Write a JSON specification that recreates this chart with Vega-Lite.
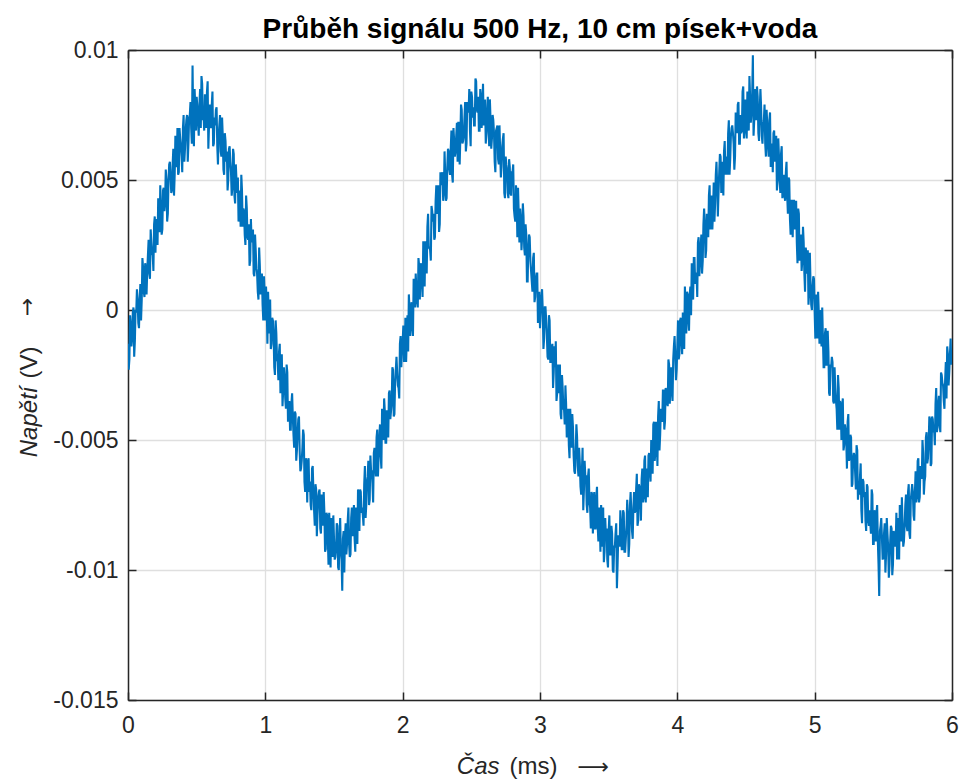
{
"$schema": "https://vega.github.io/schema/vega-lite/v6.json",
"autosize": "none",
"width": 824,
"height": 650,
"padding": {"left": 128, "top": 50, "right": 10, "bottom": 84},
"background": "white",
"title": {"text": "Průběh signálu 500 Hz, 10 cm písek+voda", "font": "Liberation Sans", "fontSize": 28, "fontWeight": "bold", "color": "#000000", "anchor": "middle", "frame": "group", "offset": -5},
"config": {"view": {"stroke": null}},
"data": {"values": [
{"t":0,"v":-0.0013},{"t":0.01,"v":-0.0019},{"t":0.02,"v":-0.0006},{"t":0.03,"v":-0.0011},{"t":0.04,"v":0.0001},{"t":0.05,"v":-0.0012},{"t":0.06,"v":-0.0001},{"t":0.07,"v":0.0004},{"t":0.08,"v":-0.0007},{"t":0.09,"v":0.001},
{"t":0.1,"v":0.0004},{"t":0.11,"v":0.0016},{"t":0.12,"v":0.0005},{"t":0.13,"v":0.0016},{"t":0.14,"v":0.0015},{"t":0.15,"v":0.0027},{"t":0.16,"v":0.0012},{"t":0.17,"v":0.0026},{"t":0.18,"v":0.0021},{"t":0.19,"v":0.0033},
{"t":0.2,"v":0.0022},{"t":0.21,"v":0.0034},{"t":0.22,"v":0.0043},{"t":0.23,"v":0.003},{"t":0.24,"v":0.0039},{"t":0.25,"v":0.0031},{"t":0.26,"v":0.0047},{"t":0.27,"v":0.0041},{"t":0.28,"v":0.005},{"t":0.29,"v":0.0037},
{"t":0.3,"v":0.0056},{"t":0.31,"v":0.0051},{"t":0.32,"v":0.0046},{"t":0.33,"v":0.0062},{"t":0.34,"v":0.0052},{"t":0.35,"v":0.0056},{"t":0.36,"v":0.007},{"t":0.37,"v":0.0053},{"t":0.38,"v":0.0066},{"t":0.39,"v":0.0059},
{"t":0.4,"v":0.007},{"t":0.41,"v":0.0057},{"t":0.42,"v":0.0069},{"t":0.43,"v":0.0075},{"t":0.44,"v":0.0064},{"t":0.45,"v":0.0075},{"t":0.46,"v":0.007},{"t":0.47,"v":0.0094},{"t":0.48,"v":0.0063},{"t":0.49,"v":0.0078},
{"t":0.5,"v":0.0082},{"t":0.51,"v":0.0072},{"t":0.52,"v":0.0079},{"t":0.53,"v":0.007},{"t":0.54,"v":0.0087},{"t":0.55,"v":0.0075},{"t":0.56,"v":0.0083},{"t":0.57,"v":0.007},{"t":0.58,"v":0.0088},{"t":0.59,"v":0.0071},
{"t":0.6,"v":0.0072},{"t":0.61,"v":0.0079},{"t":0.62,"v":0.0063},{"t":0.63,"v":0.0074},{"t":0.64,"v":0.0077},{"t":0.65,"v":0.0063},{"t":0.66,"v":0.0067},{"t":0.67,"v":0.0075},{"t":0.68,"v":0.0059},{"t":0.69,"v":0.0067},
{"t":0.7,"v":0.0052},{"t":0.71,"v":0.0065},{"t":0.72,"v":0.0061},{"t":0.73,"v":0.005},{"t":0.74,"v":0.0063},{"t":0.75,"v":0.0053},{"t":0.76,"v":0.0047},{"t":0.77,"v":0.006},{"t":0.78,"v":0.0041},{"t":0.79,"v":0.005},
{"t":0.8,"v":0.0051},{"t":0.81,"v":0.0039},{"t":0.82,"v":0.0032},{"t":0.83,"v":0.0046},{"t":0.84,"v":0.0039},{"t":0.85,"v":0.0029},{"t":0.86,"v":0.0044},{"t":0.87,"v":0.0028},{"t":0.88,"v":0.0033},{"t":0.89,"v":0.0019},
{"t":0.9,"v":0.0026},{"t":0.91,"v":0.0031},{"t":0.92,"v":0.0013},{"t":0.93,"v":0.0023},{"t":0.94,"v":0.0014},{"t":0.95,"v":0.0004},{"t":0.96,"v":0.0017},{"t":0.97,"v":0.0012},{"t":0.98,"v":0.0002},{"t":0.99,"v":0.0013},
{"t":1,"v":-0.0004},{"t":1.01,"v":0.0002},{"t":1.02,"v":0.0007},{"t":1.03,"v":-0.0009},{"t":1.04,"v":-0.0015},{"t":1.05,"v":-0.0003},{"t":1.06,"v":-0.0009},{"t":1.07,"v":-0.0025},{"t":1.08,"v":-0.0009},{"t":1.09,"v":-0.002},
{"t":1.1,"v":-0.0016},{"t":1.11,"v":-0.0032},{"t":1.12,"v":-0.0017},{"t":1.13,"v":-0.0031},{"t":1.14,"v":-0.0026},{"t":1.15,"v":-0.0038},{"t":1.16,"v":-0.0024},{"t":1.17,"v":-0.0038},{"t":1.18,"v":-0.0046},{"t":1.19,"v":-0.0036},
{"t":1.2,"v":-0.0041},{"t":1.21,"v":-0.0053},{"t":1.22,"v":-0.004},{"t":1.23,"v":-0.0054},{"t":1.24,"v":-0.0042},{"t":1.25,"v":-0.0054},{"t":1.26,"v":-0.0061},{"t":1.27,"v":-0.0053},{"t":1.28,"v":-0.0048},{"t":1.29,"v":-0.007},
{"t":1.3,"v":-0.006},{"t":1.31,"v":-0.0058},{"t":1.32,"v":-0.007},{"t":1.33,"v":-0.0075},{"t":1.34,"v":-0.0061},{"t":1.35,"v":-0.007},{"t":1.36,"v":-0.0083},{"t":1.37,"v":-0.0069},{"t":1.38,"v":-0.0079},{"t":1.39,"v":-0.007},
{"t":1.4,"v":-0.0084},{"t":1.41,"v":-0.0071},{"t":1.42,"v":-0.0083},{"t":1.43,"v":-0.0078},{"t":1.44,"v":-0.0092},{"t":1.45,"v":-0.0079},{"t":1.46,"v":-0.0098},{"t":1.47,"v":-0.0084},{"t":1.48,"v":-0.008},{"t":1.49,"v":-0.0095},
{"t":1.5,"v":-0.0088},{"t":1.51,"v":-0.0095},{"t":1.52,"v":-0.0082},{"t":1.53,"v":-0.0099},{"t":1.54,"v":-0.0088},{"t":1.55,"v":-0.0093},{"t":1.56,"v":-0.0108},{"t":1.57,"v":-0.0085},{"t":1.58,"v":-0.0087},{"t":1.59,"v":-0.0094},
{"t":1.6,"v":-0.0081},{"t":1.61,"v":-0.009},{"t":1.62,"v":-0.0094},{"t":1.63,"v":-0.0076},{"t":1.64,"v":-0.0083},{"t":1.65,"v":-0.0088},{"t":1.66,"v":-0.0076},{"t":1.67,"v":-0.009},{"t":1.68,"v":-0.0075},{"t":1.69,"v":-0.0069},
{"t":1.7,"v":-0.0078},{"t":1.71,"v":-0.0079},{"t":1.72,"v":-0.0067},{"t":1.73,"v":-0.008},{"t":1.74,"v":-0.0066},{"t":1.75,"v":-0.0058},{"t":1.76,"v":-0.0073},{"t":1.77,"v":-0.0062},{"t":1.78,"v":-0.0067},{"t":1.79,"v":-0.0055},
{"t":1.8,"v":-0.006},{"t":1.81,"v":-0.0049},{"t":1.82,"v":-0.0064},{"t":1.83,"v":-0.0049},{"t":1.84,"v":-0.0056},{"t":1.85,"v":-0.0038},{"t":1.86,"v":-0.005},{"t":1.87,"v":-0.0039},{"t":1.88,"v":-0.0051},{"t":1.89,"v":-0.0039},
{"t":1.9,"v":-0.0032},{"t":1.91,"v":-0.0042},{"t":1.92,"v":-0.0036},{"t":1.93,"v":-0.0023},{"t":1.94,"v":-0.004},{"t":1.95,"v":-0.0023},{"t":1.96,"v":-0.0024},{"t":1.97,"v":-0.003},{"t":1.98,"v":-0.0013},{"t":1.99,"v":-0.0022},
{"t":2,"v":-0.0012},{"t":2.01,"v":-0.002},{"t":2.02,"v":-0.0003},{"t":2.03,"v":-0.0011},{"t":2.04,"v":-0.0016},{"t":2.05,"v":0},{"t":2.06,"v":0.0001},{"t":2.07,"v":-0.0007},{"t":2.08,"v":0.0012},{"t":2.09,"v":0.0001},
{"t":2.1,"v":0.0008},{"t":2.11,"v":0.0001},{"t":2.12,"v":0.0017},{"t":2.13,"v":0.0016},{"t":2.14,"v":0.0011},{"t":2.15,"v":0.0026},{"t":2.16,"v":0.0009},{"t":2.17,"v":0.0026},{"t":2.18,"v":0.0032},{"t":2.19,"v":0.0024},
{"t":2.2,"v":0.0023},{"t":2.21,"v":0.004},{"t":2.22,"v":0.0034},{"t":2.23,"v":0.0027},{"t":2.24,"v":0.0042},{"t":2.25,"v":0.0037},{"t":2.26,"v":0.0048},{"t":2.27,"v":0.0033},{"t":2.28,"v":0.0048},{"t":2.29,"v":0.0053},
{"t":2.3,"v":0.0045},{"t":2.31,"v":0.0052},{"t":2.32,"v":0.0043},{"t":2.33,"v":0.0062},{"t":2.34,"v":0.0054},{"t":2.35,"v":0.0062},{"t":2.36,"v":0.0052},{"t":2.37,"v":0.007},{"t":2.38,"v":0.0059},{"t":2.39,"v":0.0067},
{"t":2.4,"v":0.0057},{"t":2.41,"v":0.0072},{"t":2.42,"v":0.0066},{"t":2.43,"v":0.0077},{"t":2.44,"v":0.0065},{"t":2.45,"v":0.0074},{"t":2.46,"v":0.0061},{"t":2.47,"v":0.008},{"t":2.48,"v":0.0076},{"t":2.49,"v":0.0069},
{"t":2.5,"v":0.0084},{"t":2.51,"v":0.0074},{"t":2.52,"v":0.0071},{"t":2.53,"v":0.0089},{"t":2.54,"v":0.0077},{"t":2.55,"v":0.0082},{"t":2.56,"v":0.0069},{"t":2.57,"v":0.0082},{"t":2.58,"v":0.0077},{"t":2.59,"v":0.0071},
{"t":2.6,"v":0.0081},{"t":2.61,"v":0.0068},{"t":2.62,"v":0.0082},{"t":2.63,"v":0.0063},{"t":2.64,"v":0.0073},{"t":2.65,"v":0.0066},{"t":2.66,"v":0.0073},{"t":2.67,"v":0.0057},{"t":2.68,"v":0.0069},{"t":2.69,"v":0.0071},
{"t":2.7,"v":0.0056},{"t":2.71,"v":0.0061},{"t":2.72,"v":0.0055},{"t":2.73,"v":0.0066},{"t":2.74,"v":0.0045},{"t":2.75,"v":0.0059},{"t":2.76,"v":0.0054},{"t":2.77,"v":0.0043},{"t":2.78,"v":0.0055},{"t":2.79,"v":0.0044},
{"t":2.8,"v":0.0053},{"t":2.81,"v":0.0039},{"t":2.82,"v":0.0034},{"t":2.83,"v":0.0044},{"t":2.84,"v":0.0047},{"t":2.85,"v":0.0026},{"t":2.86,"v":0.0035},{"t":2.87,"v":0.0028},{"t":2.88,"v":0.0036},{"t":2.89,"v":0.0021},
{"t":2.9,"v":0.0029},{"t":2.91,"v":0.0011},{"t":2.92,"v":0.0029},{"t":2.93,"v":0.0019},{"t":2.94,"v":0.0011},{"t":2.95,"v":0.002},{"t":2.96,"v":0.0003},{"t":2.97,"v":0.0012},{"t":2.98,"v":0.0014},{"t":2.99,"v":0.0003},
{"t":3,"v":-0.0007},{"t":3.01,"v":0.0005},{"t":3.02,"v":0},{"t":3.03,"v":-0.0011},{"t":3.04,"v":0.0001},{"t":3.05,"v":-0.001},{"t":3.06,"v":-0.0019},{"t":3.07,"v":-0.0004},{"t":3.08,"v":-0.002},{"t":3.09,"v":-0.0013},
{"t":3.1,"v":-0.0024},{"t":3.11,"v":-0.0022},{"t":3.12,"v":-0.0035},{"t":3.13,"v":-0.0021},{"t":3.14,"v":-0.0026},{"t":3.15,"v":-0.004},{"t":3.16,"v":-0.0025},{"t":3.17,"v":-0.0038},{"t":3.18,"v":-0.0044},{"t":3.19,"v":-0.0036},
{"t":3.2,"v":-0.004},{"t":3.21,"v":-0.0052},{"t":3.22,"v":-0.0038},{"t":3.23,"v":-0.0053},{"t":3.24,"v":-0.0045},{"t":3.25,"v":-0.0062},{"t":3.26,"v":-0.0054},{"t":3.27,"v":-0.0049},{"t":3.28,"v":-0.0064},{"t":3.29,"v":-0.0059},
{"t":3.3,"v":-0.0071},{"t":3.31,"v":-0.0053},{"t":3.32,"v":-0.0069},{"t":3.33,"v":-0.0064},{"t":3.34,"v":-0.0075},{"t":3.35,"v":-0.0064},{"t":3.36,"v":-0.0074},{"t":3.37,"v":-0.0084},{"t":3.38,"v":-0.0071},{"t":3.39,"v":-0.0074},
{"t":3.4,"v":-0.0084},{"t":3.41,"v":-0.0072},{"t":3.42,"v":-0.0083},{"t":3.43,"v":-0.0076},{"t":3.44,"v":-0.0093},{"t":3.45,"v":-0.0081},{"t":3.46,"v":-0.0076},{"t":3.47,"v":-0.0093},{"t":3.48,"v":-0.0087},{"t":3.49,"v":-0.0096},
{"t":3.5,"v":-0.0085},{"t":3.51,"v":-0.0094},{"t":3.52,"v":-0.0083},{"t":3.53,"v":-0.01},{"t":3.54,"v":-0.0091},{"t":3.55,"v":-0.0086},{"t":3.56,"v":-0.0107},{"t":3.57,"v":-0.0087},{"t":3.58,"v":-0.0091},{"t":3.59,"v":-0.0082},
{"t":3.6,"v":-0.0092},{"t":3.61,"v":-0.0078},{"t":3.62,"v":-0.0093},{"t":3.63,"v":-0.0083},{"t":3.64,"v":-0.0079},{"t":3.65,"v":-0.009},{"t":3.66,"v":-0.007},{"t":3.67,"v":-0.0085},{"t":3.68,"v":-0.0076},{"t":3.69,"v":-0.0078},
{"t":3.7,"v":-0.0069},{"t":3.71,"v":-0.0083},{"t":3.72,"v":-0.0067},{"t":3.73,"v":-0.0073},{"t":3.74,"v":-0.0065},{"t":3.75,"v":-0.0074},{"t":3.76,"v":-0.0058},{"t":3.77,"v":-0.0074},{"t":3.78,"v":-0.0061},{"t":3.79,"v":-0.0056},
{"t":3.8,"v":-0.0062},{"t":3.81,"v":-0.005},{"t":3.82,"v":-0.0063},{"t":3.83,"v":-0.0043},{"t":3.84,"v":-0.0055},{"t":3.85,"v":-0.0048},{"t":3.86,"v":-0.0041},{"t":3.87,"v":-0.0054},{"t":3.88,"v":-0.0038},{"t":3.89,"v":-0.0043},
{"t":3.9,"v":-0.0031},{"t":3.91,"v":-0.0043},{"t":3.92,"v":-0.0031},{"t":3.93,"v":-0.0037},{"t":3.94,"v":-0.0021},{"t":3.95,"v":-0.0029},{"t":3.96,"v":-0.0031},{"t":3.97,"v":-0.0019},{"t":3.98,"v":-0.001},{"t":3.99,"v":-0.0027},
{"t":4,"v":-0.0014},{"t":4.01,"v":-0.0019},{"t":4.02,"v":-0.0004},{"t":4.03,"v":-0.0012},{"t":4.04,"v":-0.0001},{"t":4.05,"v":-0.0015},{"t":4.06,"v":0.0002},{"t":4.07,"v":0.0007},{"t":4.08,"v":-0.0004},{"t":4.09,"v":0.0006},
{"t":4.1,"v":-0.0002},{"t":4.11,"v":0.0014},{"t":4.12,"v":0.002},{"t":4.13,"v":0.001},{"t":4.14,"v":0.0014},{"t":4.15,"v":0.0026},{"t":4.16,"v":0.0013},{"t":4.17,"v":0.0025},{"t":4.18,"v":0.0014},{"t":4.19,"v":0.0033},
{"t":4.2,"v":0.0033},{"t":4.21,"v":0.0023},{"t":4.22,"v":0.0035},{"t":4.23,"v":0.0044},{"t":4.24,"v":0.0031},{"t":4.25,"v":0.0044},{"t":4.26,"v":0.0038},{"t":4.27,"v":0.0034},{"t":4.28,"v":0.0052},{"t":4.29,"v":0.0048},
{"t":4.3,"v":0.0045},{"t":4.31,"v":0.006},{"t":4.32,"v":0.0045},{"t":4.33,"v":0.0057},{"t":4.34,"v":0.0061},{"t":4.35,"v":0.0052},{"t":4.36,"v":0.0058},{"t":4.37,"v":0.0068},{"t":4.38,"v":0.0052},{"t":4.39,"v":0.0067},
{"t":4.4,"v":0.0071},{"t":4.41,"v":0.0064},{"t":4.42,"v":0.0059},{"t":4.43,"v":0.0073},{"t":4.44,"v":0.0079},{"t":4.45,"v":0.0064},{"t":4.46,"v":0.0075},{"t":4.47,"v":0.0069},{"t":4.48,"v":0.0086},{"t":4.49,"v":0.0069},
{"t":4.5,"v":0.0077},{"t":4.51,"v":0.0084},{"t":4.52,"v":0.0069},{"t":4.53,"v":0.0082},{"t":4.54,"v":0.0076},{"t":4.55,"v":0.0098},{"t":4.56,"v":0.0073},{"t":4.57,"v":0.0076},{"t":4.58,"v":0.0086},{"t":4.59,"v":0.0068},
{"t":4.6,"v":0.0077},{"t":4.61,"v":0.0078},{"t":4.62,"v":0.0064},{"t":4.63,"v":0.0073},{"t":4.64,"v":0.0064},{"t":4.65,"v":0.0077},{"t":4.66,"v":0.0063},{"t":4.67,"v":0.0073},{"t":4.68,"v":0.0055},{"t":4.69,"v":0.0064},
{"t":4.7,"v":0.0068},{"t":4.71,"v":0.0057},{"t":4.72,"v":0.0067},{"t":4.73,"v":0.005},{"t":4.74,"v":0.0059},{"t":4.75,"v":0.0045},{"t":4.76,"v":0.0063},{"t":4.77,"v":0.0048},{"t":4.78,"v":0.0044},{"t":4.79,"v":0.0053},
{"t":4.8,"v":0.0044},{"t":4.81,"v":0.0051},{"t":4.82,"v":0.0035},{"t":4.83,"v":0.0042},{"t":4.84,"v":0.0028},{"t":4.85,"v":0.0042},{"t":4.86,"v":0.0035},{"t":4.87,"v":0.0026},{"t":4.88,"v":0.0039},{"t":4.89,"v":0.0019},
{"t":4.9,"v":0.0029},{"t":4.91,"v":0.0019},{"t":4.92,"v":0.0026},{"t":4.93,"v":0.0007},{"t":4.94,"v":0.0021},{"t":4.95,"v":0.0023},{"t":4.96,"v":0.0007},{"t":4.97,"v":0.001},{"t":4.98,"v":0},{"t":4.99,"v":0.0013},
{"t":5,"v":-0.0001},{"t":5.01,"v":0.0006},{"t":5.02,"v":-0.0011},{"t":5.03,"v":-0.0001},{"t":5.04,"v":0},{"t":5.05,"v":-0.0014},{"t":5.06,"v":-0.0011},{"t":5.07,"v":-0.0022},{"t":5.08,"v":-0.0007},{"t":5.09,"v":-0.0021},
{"t":5.1,"v":-0.0016},{"t":5.11,"v":-0.0033},{"t":5.12,"v":-0.0022},{"t":5.13,"v":-0.002},{"t":5.14,"v":-0.0036},{"t":5.15,"v":-0.003},{"t":5.16,"v":-0.0038},{"t":5.17,"v":-0.0025},{"t":5.18,"v":-0.0046},{"t":5.19,"v":-0.0037},
{"t":5.2,"v":-0.0037},{"t":5.21,"v":-0.0054},{"t":5.22,"v":-0.0044},{"t":5.23,"v":-0.005},{"t":5.24,"v":-0.0043},{"t":5.25,"v":-0.0058},{"t":5.26,"v":-0.0048},{"t":5.27,"v":-0.0068},{"t":5.28,"v":-0.0057},{"t":5.29,"v":-0.0056},
{"t":5.3,"v":-0.0069},{"t":5.31,"v":-0.0054},{"t":5.32,"v":-0.0069},{"t":5.33,"v":-0.0064},{"t":5.34,"v":-0.0077},{"t":5.35,"v":-0.0065},{"t":5.36,"v":-0.0072},{"t":5.37,"v":-0.0081},{"t":5.38,"v":-0.0067},{"t":5.39,"v":-0.0081},
{"t":5.4,"v":-0.0077},{"t":5.41,"v":-0.0086},{"t":5.42,"v":-0.0071},{"t":5.43,"v":-0.009},{"t":5.44,"v":-0.008},{"t":5.45,"v":-0.0078},{"t":5.46,"v":-0.0089},{"t":5.47,"v":-0.011},{"t":5.48,"v":-0.0083},{"t":5.49,"v":-0.0088},
{"t":5.5,"v":-0.0095},{"t":5.51,"v":-0.0082},{"t":5.52,"v":-0.0094},{"t":5.53,"v":-0.0086},{"t":5.54,"v":-0.0103},{"t":5.55,"v":-0.0089},{"t":5.56,"v":-0.0084},{"t":5.57,"v":-0.0098},{"t":5.58,"v":-0.0086},{"t":5.59,"v":-0.009},
{"t":5.6,"v":-0.0096},{"t":5.61,"v":-0.0082},{"t":5.62,"v":-0.0075},{"t":5.63,"v":-0.0089},{"t":5.64,"v":-0.0082},{"t":5.65,"v":-0.0089},{"t":5.66,"v":-0.0075},{"t":5.67,"v":-0.0083},{"t":5.68,"v":-0.007},{"t":5.69,"v":-0.0086},
{"t":5.7,"v":-0.0073},{"t":5.71,"v":-0.0067},{"t":5.72,"v":-0.0079},{"t":5.73,"v":-0.007},{"t":5.74,"v":-0.0074},{"t":5.75,"v":-0.0058},{"t":5.76,"v":-0.0074},{"t":5.77,"v":-0.006},{"t":5.78,"v":-0.0065},{"t":5.79,"v":-0.0055},
{"t":5.8,"v":-0.0066},{"t":5.81,"v":-0.0049},{"t":5.82,"v":-0.0059},{"t":5.83,"v":-0.0051},{"t":5.84,"v":-0.0042},{"t":5.85,"v":-0.0059},{"t":5.86,"v":-0.0042},{"t":5.87,"v":-0.0046},{"t":5.88,"v":-0.0036},{"t":5.89,"v":-0.0047},
{"t":5.9,"v":-0.0036},{"t":5.91,"v":-0.0044},{"t":5.92,"v":-0.0024},{"t":5.93,"v":-0.0028},{"t":5.94,"v":-0.0035},{"t":5.95,"v":-0.0027},{"t":5.96,"v":-0.0034},{"t":5.97,"v":-0.0017},{"t":5.98,"v":-0.0024},{"t":5.99,"v":-0.0011},
{"t":6,"v":-0.002},
{"t":0.005,"v":-0.0023},{"t":0.015,"v":-0.0002},{"t":0.025,"v":-0.0014},{"t":0.035,"v":-0.0001},{"t":0.045,"v":-0.0018},{"t":0.055,"v":0},{"t":0.065,"v":0.0008},{"t":0.075,"v":-0.0005},{"t":0.085,"v":0.0004},{"t":0.095,"v":-0.0004},
{"t":0.105,"v":0.002},{"t":0.115,"v":0.0007},{"t":0.125,"v":0.0018},{"t":0.135,"v":0.0006},{"t":0.145,"v":0.0021},{"t":0.155,"v":0.0014},{"t":0.165,"v":0.0031},{"t":0.175,"v":0.0022},{"t":0.185,"v":0.0015},{"t":0.195,"v":0.0036},
{"t":0.205,"v":0.0035},{"t":0.215,"v":0.0025},{"t":0.225,"v":0.0032},{"t":0.235,"v":0.0048},{"t":0.245,"v":0.0029},{"t":0.255,"v":0.0046},{"t":0.265,"v":0.0038},{"t":0.275,"v":0.0054},{"t":0.285,"v":0.0034},{"t":0.295,"v":0.005},
{"t":0.305,"v":0.0057},{"t":0.315,"v":0.0045},{"t":0.325,"v":0.0056},{"t":0.335,"v":0.0044},{"t":0.345,"v":0.0067},{"t":0.355,"v":0.0055},{"t":0.365,"v":0.0052},{"t":0.375,"v":0.007},{"t":0.385,"v":0.0063},{"t":0.395,"v":0.0053},
{"t":0.405,"v":0.0075},{"t":0.415,"v":0.0062},{"t":0.425,"v":0.0073},{"t":0.435,"v":0.0057},{"t":0.445,"v":0.0074},{"t":0.455,"v":0.008},{"t":0.465,"v":0.0064},{"t":0.475,"v":0.0072},{"t":0.485,"v":0.0085},{"t":0.495,"v":0.0069},
{"t":0.505,"v":0.0078},{"t":0.515,"v":0.0067},{"t":0.525,"v":0.0085},{"t":0.535,"v":0.009},{"t":0.545,"v":0.0073},{"t":0.555,"v":0.0069},{"t":0.565,"v":0.008},{"t":0.575,"v":0.0084},{"t":0.585,"v":0.0062},{"t":0.595,"v":0.0079},
{"t":0.605,"v":0.007},{"t":0.615,"v":0.0084},{"t":0.625,"v":0.0064},{"t":0.635,"v":0.0071},{"t":0.645,"v":0.0078},{"t":0.655,"v":0.0056},{"t":0.665,"v":0.0071},{"t":0.675,"v":0.0061},{"t":0.685,"v":0.0074},{"t":0.695,"v":0.0054},
{"t":0.705,"v":0.0068},{"t":0.715,"v":0.0057},{"t":0.725,"v":0.0046},{"t":0.735,"v":0.0062},{"t":0.745,"v":0.0057},{"t":0.755,"v":0.0044},{"t":0.765,"v":0.0062},{"t":0.775,"v":0.0044},{"t":0.785,"v":0.0056},{"t":0.795,"v":0.0045},
{"t":0.805,"v":0.0034},{"t":0.815,"v":0.0046},{"t":0.825,"v":0.0052},{"t":0.835,"v":0.0032},{"t":0.845,"v":0.0038},{"t":0.855,"v":0.0025},{"t":0.865,"v":0.0039},{"t":0.875,"v":0.0027},{"t":0.885,"v":0.0017},{"t":0.895,"v":0.0035},
{"t":0.905,"v":0.0028},{"t":0.915,"v":0.0014},{"t":0.925,"v":0.0029},{"t":0.935,"v":0.0016},{"t":0.945,"v":0.0007},{"t":0.955,"v":0.0024},{"t":0.965,"v":0.0006},{"t":0.975,"v":0.0014},{"t":0.985,"v":-0.0004},{"t":0.995,"v":0.0006},
{"t":1.005,"v":0.0009},{"t":1.015,"v":-0.0013},{"t":1.025,"v":-0.0002},{"t":1.035,"v":0.0004},{"t":1.045,"v":-0.0013},{"t":1.055,"v":-0.0004},{"t":1.065,"v":-0.0022},{"t":1.075,"v":-0.0004},{"t":1.085,"v":-0.0019},{"t":1.095,"v":-0.0027},
{"t":1.105,"v":-0.0013},{"t":1.115,"v":-0.002},{"t":1.125,"v":-0.0037},{"t":1.135,"v":-0.0022},{"t":1.145,"v":-0.0034},{"t":1.155,"v":-0.0021},{"t":1.165,"v":-0.0043},{"t":1.175,"v":-0.0035},{"t":1.185,"v":-0.0046},{"t":1.195,"v":-0.0032},
{"t":1.205,"v":-0.0048},{"t":1.215,"v":-0.0039},{"t":1.225,"v":-0.0058},{"t":1.235,"v":-0.0047},{"t":1.245,"v":-0.0041},{"t":1.255,"v":-0.0062},{"t":1.265,"v":-0.0058},{"t":1.275,"v":-0.0046},{"t":1.285,"v":-0.0066},{"t":1.295,"v":-0.0057},
{"t":1.305,"v":-0.0074},{"t":1.315,"v":-0.0057},{"t":1.325,"v":-0.0066},{"t":1.335,"v":-0.0077},{"t":1.345,"v":-0.006},{"t":1.355,"v":-0.0077},{"t":1.365,"v":-0.0067},{"t":1.375,"v":-0.0087},{"t":1.385,"v":-0.0072},{"t":1.395,"v":-0.0069},
{"t":1.405,"v":-0.0086},{"t":1.415,"v":-0.0078},{"t":1.425,"v":-0.007},{"t":1.435,"v":-0.0093},{"t":1.445,"v":-0.0078},{"t":1.455,"v":-0.0088},{"t":1.465,"v":-0.0078},{"t":1.475,"v":-0.0099},{"t":1.485,"v":-0.0084},{"t":1.495,"v":-0.0079},
{"t":1.505,"v":-0.0096},{"t":1.515,"v":-0.0092},{"t":1.525,"v":-0.0083},{"t":1.535,"v":-0.01},{"t":1.545,"v":-0.008},{"t":1.555,"v":-0.0096},{"t":1.565,"v":-0.0088},{"t":1.575,"v":-0.0101},{"t":1.585,"v":-0.0082},{"t":1.595,"v":-0.009},
{"t":1.605,"v":-0.0076},{"t":1.615,"v":-0.0095},{"t":1.625,"v":-0.008},{"t":1.635,"v":-0.0087},{"t":1.645,"v":-0.0075},{"t":1.655,"v":-0.0093},{"t":1.665,"v":-0.0078},{"t":1.675,"v":-0.0069},{"t":1.685,"v":-0.0085},{"t":1.695,"v":-0.007},
{"t":1.705,"v":-0.0076},{"t":1.715,"v":-0.0083},{"t":1.725,"v":-0.006},{"t":1.735,"v":-0.0075},{"t":1.745,"v":-0.0064},{"t":1.755,"v":-0.0075},{"t":1.765,"v":-0.0056},{"t":1.775,"v":-0.0062},{"t":1.785,"v":-0.0074},{"t":1.795,"v":-0.0053},
{"t":1.805,"v":-0.0064},{"t":1.815,"v":-0.0046},{"t":1.825,"v":-0.0056},{"t":1.835,"v":-0.0044},{"t":1.845,"v":-0.0061},{"t":1.855,"v":-0.0044},{"t":1.865,"v":-0.0034},{"t":1.875,"v":-0.0051},{"t":1.885,"v":-0.0039},{"t":1.895,"v":-0.0049},
{"t":1.905,"v":-0.0031},{"t":1.915,"v":-0.0039},{"t":1.925,"v":-0.0022},{"t":1.935,"v":-0.0041},{"t":1.945,"v":-0.0028},{"t":1.955,"v":-0.0018},{"t":1.965,"v":-0.0029},{"t":1.975,"v":-0.0034},{"t":1.985,"v":-0.001},{"t":1.995,"v":-0.0015},
{"t":2.005,"v":-0.0006},{"t":2.015,"v":-0.0016},{"t":2.025,"v":-0.002},{"t":2.035,"v":-0.0002},{"t":2.045,"v":0.0006},{"t":2.055,"v":-0.001},{"t":2.065,"v":0.0003},{"t":2.075,"v":-0.001},{"t":2.085,"v":0.0004},{"t":2.095,"v":0.0014},
{"t":2.105,"v":0.0003},{"t":2.115,"v":0.002},{"t":2.125,"v":0.0004},{"t":2.135,"v":0.0018},{"t":2.145,"v":0.0005},{"t":2.155,"v":0.0026},{"t":2.165,"v":0.0026},{"t":2.175,"v":0.0014},{"t":2.185,"v":0.0037},{"t":2.195,"v":0.0024},
{"t":2.205,"v":0.0019},{"t":2.215,"v":0.0038},{"t":2.225,"v":0.0037},{"t":2.235,"v":0.0028},{"t":2.245,"v":0.0048},{"t":2.255,"v":0.0038},{"t":2.265,"v":0.003},{"t":2.275,"v":0.0053},{"t":2.285,"v":0.0051},{"t":2.295,"v":0.0042},
{"t":2.305,"v":0.0061},{"t":2.315,"v":0.0042},{"t":2.325,"v":0.0055},{"t":2.335,"v":0.0061},{"t":2.345,"v":0.0052},{"t":2.355,"v":0.0069},{"t":2.365,"v":0.0049},{"t":2.375,"v":0.0065},{"t":2.385,"v":0.0061},{"t":2.395,"v":0.0072},
{"t":2.405,"v":0.0072},{"t":2.415,"v":0.0056},{"t":2.425,"v":0.0079},{"t":2.435,"v":0.0064},{"t":2.445,"v":0.0067},{"t":2.455,"v":0.008},{"t":2.465,"v":0.0064},{"t":2.475,"v":0.0077},{"t":2.485,"v":0.0085},{"t":2.495,"v":0.0063},
{"t":2.505,"v":0.0082},{"t":2.515,"v":0.0078},{"t":2.525,"v":0.0071},{"t":2.535,"v":0.0088},{"t":2.545,"v":0.0076},{"t":2.555,"v":0.0069},{"t":2.565,"v":0.0085},{"t":2.575,"v":0.007},{"t":2.585,"v":0.0087},{"t":2.595,"v":0.0077},
{"t":2.605,"v":0.0064},{"t":2.615,"v":0.0076},{"t":2.625,"v":0.007},{"t":2.635,"v":0.0081},{"t":2.645,"v":0.0062},{"t":2.655,"v":0.0075},{"t":2.665,"v":0.0068},{"t":2.675,"v":0.0053},{"t":2.685,"v":0.007},{"t":2.695,"v":0.0058},
{"t":2.705,"v":0.0071},{"t":2.715,"v":0.0051},{"t":2.725,"v":0.0063},{"t":2.735,"v":0.0068},{"t":2.745,"v":0.0043},{"t":2.755,"v":0.0056},{"t":2.765,"v":0.0045},{"t":2.775,"v":0.0058},{"t":2.785,"v":0.0045},{"t":2.795,"v":0.0053},
{"t":2.805,"v":0.0056},{"t":2.815,"v":0.0036},{"t":2.825,"v":0.0048},{"t":2.835,"v":0.0028},{"t":2.845,"v":0.0037},{"t":2.855,"v":0.0039},{"t":2.865,"v":0.0023},{"t":2.875,"v":0.0041},{"t":2.885,"v":0.0024},{"t":2.895,"v":0.0033},
{"t":2.905,"v":0.0011},{"t":2.915,"v":0.0024},{"t":2.925,"v":0.0028},{"t":2.935,"v":0.0015},{"t":2.945,"v":0.0007},{"t":2.955,"v":0.0022},{"t":2.965,"v":0.0005},{"t":2.975,"v":0.0014},{"t":2.985,"v":-0.0005},{"t":2.995,"v":0.0007},
{"t":3.005,"v":-0.0001},{"t":3.015,"v":0.0008},{"t":3.025,"v":-0.0015},{"t":3.035,"v":0.0001},{"t":3.045,"v":-0.0004},{"t":3.055,"v":-0.0018},{"t":3.065,"v":-0.0002},{"t":3.075,"v":-0.002},{"t":3.085,"v":-0.0015},{"t":3.095,"v":-0.003},
{"t":3.105,"v":-0.0014},{"t":3.115,"v":-0.0012},{"t":3.125,"v":-0.0032},{"t":3.135,"v":-0.0032},{"t":3.145,"v":-0.0021},{"t":3.155,"v":-0.0042},{"t":3.165,"v":-0.003},{"t":3.175,"v":-0.0038},{"t":3.185,"v":-0.0029},{"t":3.195,"v":-0.0049},
{"t":3.205,"v":-0.0038},{"t":3.215,"v":-0.0057},{"t":3.225,"v":-0.0045},{"t":3.235,"v":-0.004},{"t":3.245,"v":-0.0056},{"t":3.255,"v":-0.0063},{"t":3.265,"v":-0.0044},{"t":3.275,"v":-0.006},{"t":3.285,"v":-0.0053},{"t":3.295,"v":-0.0068},
{"t":3.305,"v":-0.0062},{"t":3.315,"v":-0.0077},{"t":3.325,"v":-0.0058},{"t":3.335,"v":-0.0064},{"t":3.345,"v":-0.0078},{"t":3.355,"v":-0.0061},{"t":3.365,"v":-0.0076},{"t":3.375,"v":-0.007},{"t":3.385,"v":-0.0086},{"t":3.395,"v":-0.007},
{"t":3.405,"v":-0.0084},{"t":3.415,"v":-0.0068},{"t":3.425,"v":-0.0089},{"t":3.435,"v":-0.0081},{"t":3.445,"v":-0.0075},{"t":3.455,"v":-0.0091},{"t":3.465,"v":-0.0097},{"t":3.475,"v":-0.008},{"t":3.485,"v":-0.0084},{"t":3.495,"v":-0.0099},
{"t":3.505,"v":-0.0079},{"t":3.515,"v":-0.0094},{"t":3.525,"v":-0.0086},{"t":3.535,"v":-0.0101},{"t":3.545,"v":-0.0091},{"t":3.555,"v":-0.0082},{"t":3.565,"v":-0.0098},{"t":3.575,"v":-0.0087},{"t":3.585,"v":-0.0077},{"t":3.595,"v":-0.0092},
{"t":3.605,"v":-0.0077},{"t":3.615,"v":-0.0093},{"t":3.625,"v":-0.0088},{"t":3.635,"v":-0.0073},{"t":3.645,"v":-0.0095},{"t":3.655,"v":-0.0075},{"t":3.665,"v":-0.0078},{"t":3.675,"v":-0.0088},{"t":3.685,"v":-0.007},{"t":3.695,"v":-0.0077},
{"t":3.705,"v":-0.0063},{"t":3.715,"v":-0.0081},{"t":3.725,"v":-0.0068},{"t":3.735,"v":-0.0081},{"t":3.745,"v":-0.0061},{"t":3.755,"v":-0.0072},{"t":3.765,"v":-0.0056},{"t":3.775,"v":-0.0065},{"t":3.785,"v":-0.0072},{"t":3.795,"v":-0.0055},
{"t":3.805,"v":-0.0066},{"t":3.815,"v":-0.0053},{"t":3.825,"v":-0.0044},{"t":3.835,"v":-0.0058},{"t":3.845,"v":-0.0043},{"t":3.855,"v":-0.006},{"t":3.865,"v":-0.0035},{"t":3.875,"v":-0.0048},{"t":3.885,"v":-0.0041},{"t":3.895,"v":-0.0031},
{"t":3.905,"v":-0.0046},{"t":3.915,"v":-0.003},{"t":3.925,"v":-0.0035},{"t":3.935,"v":-0.0019},{"t":3.945,"v":-0.0036},{"t":3.955,"v":-0.0022},{"t":3.965,"v":-0.0035},{"t":3.975,"v":-0.0014},{"t":3.985,"v":-0.0018},{"t":3.995,"v":-0.0023},
{"t":4.005,"v":-0.0004},{"t":4.015,"v":-0.0017},{"t":4.025,"v":-0.0003},{"t":4.035,"v":-0.0017},{"t":4.045,"v":-0.0008},{"t":4.055,"v":0.0009},{"t":4.065,"v":-0.0009},{"t":4.075,"v":0.0006},{"t":4.085,"v":-0.0008},{"t":4.095,"v":0.0009},
{"t":4.105,"v":0.0018},{"t":4.115,"v":0.0004},{"t":4.125,"v":0.002},{"t":4.135,"v":0.0014},{"t":4.145,"v":0.0005},{"t":4.155,"v":0.0028},{"t":4.165,"v":0.0018},{"t":4.175,"v":0.0029},{"t":4.185,"v":0.0019},{"t":4.195,"v":0.0039},
{"t":4.205,"v":0.002},{"t":4.215,"v":0.0037},{"t":4.225,"v":0.0028},{"t":4.235,"v":0.0048},{"t":4.245,"v":0.004},{"t":4.255,"v":0.0031},{"t":4.265,"v":0.0049},{"t":4.275,"v":0.0041},{"t":4.285,"v":0.0057},{"t":4.295,"v":0.0036},
{"t":4.305,"v":0.0053},{"t":4.315,"v":0.0059},{"t":4.325,"v":0.0048},{"t":4.335,"v":0.0044},{"t":4.345,"v":0.0065},{"t":4.355,"v":0.0059},{"t":4.365,"v":0.0052},{"t":4.375,"v":0.0073},{"t":4.385,"v":0.0058},{"t":4.395,"v":0.007},
{"t":4.405,"v":0.0068},{"t":4.415,"v":0.0054},{"t":4.425,"v":0.0076},{"t":4.435,"v":0.0068},{"t":4.445,"v":0.008},{"t":4.455,"v":0.0064},{"t":4.465,"v":0.0068},{"t":4.475,"v":0.0084},{"t":4.485,"v":0.0066},{"t":4.495,"v":0.0081},
{"t":4.505,"v":0.0066},{"t":4.515,"v":0.0079},{"t":4.525,"v":0.009},{"t":4.535,"v":0.0072},{"t":4.545,"v":0.0083},{"t":4.555,"v":0.0067},{"t":4.565,"v":0.0085},{"t":4.575,"v":0.0073},{"t":4.585,"v":0.0082},{"t":4.595,"v":0.0065},
{"t":4.605,"v":0.0085},{"t":4.615,"v":0.0067},{"t":4.625,"v":0.0072},{"t":4.635,"v":0.0079},{"t":4.645,"v":0.0059},{"t":4.655,"v":0.0071},{"t":4.665,"v":0.0059},{"t":4.675,"v":0.0076},{"t":4.685,"v":0.0062},{"t":4.695,"v":0.0053},
{"t":4.705,"v":0.0069},{"t":4.715,"v":0.0064},{"t":4.725,"v":0.0046},{"t":4.735,"v":0.0066},{"t":4.745,"v":0.005},{"t":4.755,"v":0.006},{"t":4.765,"v":0.0043},{"t":4.775,"v":0.0052},{"t":4.785,"v":0.0042},{"t":4.795,"v":0.0057},
{"t":4.805,"v":0.0037},{"t":4.815,"v":0.005},{"t":4.825,"v":0.0029},{"t":4.835,"v":0.0042},{"t":4.845,"v":0.0042},{"t":4.855,"v":0.0031},{"t":4.865,"v":0.0042},{"t":4.875,"v":0.0018},{"t":4.885,"v":0.0037},{"t":4.895,"v":0.0028},
{"t":4.905,"v":0.0015},{"t":4.915,"v":0.0032},{"t":4.925,"v":0.0014},{"t":4.935,"v":0.0024},{"t":4.945,"v":0.0014},{"t":4.955,"v":0.0002},{"t":4.965,"v":0.0022},{"t":4.975,"v":0.0002},{"t":4.985,"v":0.0009},{"t":4.995,"v":0.0012},
{"t":5.005,"v":-0.0011},{"t":5.015,"v":0.0003},{"t":5.025,"v":0.0007},{"t":5.035,"v":-0.0013},{"t":5.045,"v":-0.0007},{"t":5.055,"v":0.0001},{"t":5.065,"v":-0.0022},{"t":5.075,"v":-0.0009},{"t":5.085,"v":-0.0021},{"t":5.095,"v":-0.0008},
{"t":5.105,"v":-0.0032},{"t":5.115,"v":-0.0021},{"t":5.125,"v":-0.0018},{"t":5.135,"v":-0.0035},{"t":5.145,"v":-0.0022},{"t":5.155,"v":-0.0035},{"t":5.165,"v":-0.0046},{"t":5.175,"v":-0.003},{"t":5.185,"v":-0.0035},{"t":5.195,"v":-0.005},
{"t":5.205,"v":-0.0034},{"t":5.215,"v":-0.0052},{"t":5.225,"v":-0.0046},{"t":5.235,"v":-0.0061},{"t":5.245,"v":-0.004},{"t":5.255,"v":-0.0057},{"t":5.265,"v":-0.0049},{"t":5.275,"v":-0.0067},{"t":5.285,"v":-0.0055},{"t":5.295,"v":-0.0063},
{"t":5.305,"v":-0.0052},{"t":5.315,"v":-0.0073},{"t":5.325,"v":-0.0071},{"t":5.335,"v":-0.0059},{"t":5.345,"v":-0.0082},{"t":5.355,"v":-0.0066},{"t":5.365,"v":-0.007},{"t":5.375,"v":-0.0085},{"t":5.385,"v":-0.0068},{"t":5.395,"v":-0.0083},
{"t":5.405,"v":-0.0082},{"t":5.415,"v":-0.0069},{"t":5.425,"v":-0.009},{"t":5.435,"v":-0.0077},{"t":5.445,"v":-0.0089},{"t":5.455,"v":-0.0075},{"t":5.465,"v":-0.0098},{"t":5.475,"v":-0.0085},{"t":5.485,"v":-0.008},{"t":5.495,"v":-0.0096},
{"t":5.505,"v":-0.0086},{"t":5.515,"v":-0.0101},{"t":5.525,"v":-0.008},{"t":5.535,"v":-0.0091},{"t":5.545,"v":-0.0098},{"t":5.555,"v":-0.0083},{"t":5.565,"v":-0.0102},{"t":5.575,"v":-0.0085},{"t":5.585,"v":-0.0091},{"t":5.595,"v":-0.0078},
{"t":5.605,"v":-0.008},{"t":5.615,"v":-0.0096},{"t":5.625,"v":-0.0081},{"t":5.635,"v":-0.0072},{"t":5.645,"v":-0.0091},{"t":5.655,"v":-0.0083},{"t":5.665,"v":-0.0071},{"t":5.675,"v":-0.0085},{"t":5.685,"v":-0.0067},{"t":5.695,"v":-0.0088},
{"t":5.705,"v":-0.007},{"t":5.715,"v":-0.007},{"t":5.725,"v":-0.0081},{"t":5.735,"v":-0.0062},{"t":5.745,"v":-0.0072},{"t":5.755,"v":-0.0057},{"t":5.765,"v":-0.0072},{"t":5.775,"v":-0.0062},{"t":5.785,"v":-0.005},{"t":5.795,"v":-0.0071},
{"t":5.805,"v":-0.0064},{"t":5.815,"v":-0.0047},{"t":5.825,"v":-0.0057},{"t":5.835,"v":-0.0041},{"t":5.845,"v":-0.006},{"t":5.855,"v":-0.0041},{"t":5.865,"v":-0.0047},{"t":5.875,"v":-0.0052},{"t":5.885,"v":-0.003},{"t":5.895,"v":-0.0045},
{"t":5.905,"v":-0.0033},{"t":5.915,"v":-0.0047},{"t":5.925,"v":-0.0025},{"t":5.935,"v":-0.0029},{"t":5.945,"v":-0.0038},{"t":5.955,"v":-0.002},{"t":5.965,"v":-0.0014},{"t":5.975,"v":-0.0029},{"t":5.985,"v":-0.0017},{"t":5.995,"v":-0.0021}
]},
"layer": [
{
"mark": {"type": "line", "color": "#0072BD", "strokeWidth": 2.1, "clip": true},
"encoding": {
"x": {"field": "t", "type": "quantitative", "scale": {"domain": [0, 6], "nice": false, "zero": false},
"axis": {"orient": "bottom", "values": [0,1,2,3,4,5,6], "labelExpr": "'' + datum.value", "labelFlush": false, "labelOverlap": false, "labelBound": false,
"grid": true, "gridColor": "#dfdfdf", "gridWidth": 1.3, "domain": true, "domainColor": "#262626", "domainWidth": 1.5,
"ticks": true, "tickSize": -8, "tickColor": "#262626", "tickWidth": 1.5, "labelPadding": 22,
"labelFont": "Liberation Sans", "labelFontSize": 23, "labelColor": "#262626",
"title": "(ms)", "titleFont": "Liberation Sans", "titleFontSize": 24, "titleFontWeight": "normal", "titleColor": "#262626",
"titleAlign": "left", "titleX": 381, "titleY": 73, "titleBaseline": "alphabetic"}},
"y": {"field": "v", "type": "quantitative", "scale": {"domain": [-0.015, 0.01], "nice": false, "zero": false},
"axis": {"orient": "left", "values": [-0.015,-0.01,-0.005,0,0.005,0.01], "labelExpr": "'' + datum.value", "labelFlush": false, "labelOverlap": false, "labelBound": false,
"grid": true, "gridColor": "#dfdfdf", "gridWidth": 1.3, "domain": true, "domainColor": "#262626", "domainWidth": 1.5,
"ticks": true, "tickSize": -8, "tickColor": "#262626", "tickWidth": 1.5, "labelPadding": 18,
"labelFont": "Liberation Sans", "labelFontSize": 23, "labelColor": "#262626",
"title": "(V)", "titleFont": "Liberation Sans", "titleFontSize": 24, "titleFontWeight": "normal", "titleColor": "#262626",
"titleAngle": 270, "titleAlign": "left", "titleX": -92, "titleY": 328, "titleBaseline": "alphabetic"}}
}
},
{
"mark": {"type": "line", "strokeOpacity": 0},
"encoding": {
"x": {"field": "t", "type": "quantitative", "scale": {"domain": [0, 6], "nice": false, "zero": false},
"axis": {"orient": "top", "values": [0,1,2,3,4,5,6], "labels": false, "grid": false, "domain": true, "domainColor": "#262626", "domainWidth": 1.5, "ticks": true, "tickSize": -8, "tickColor": "#262626", "tickWidth": 1.5, "title": null}},
"y": {"field": "v", "type": "quantitative", "scale": {"domain": [-0.015, 0.01], "nice": false, "zero": false},
"axis": {"orient": "right", "values": [-0.015,-0.01,-0.005,0,0.005,0.01], "labels": false, "grid": false, "domain": true, "domainColor": "#262626", "domainWidth": 1.5, "ticks": true, "tickSize": -8, "tickColor": "#262626", "tickWidth": 1.5, "title": null}}
}
},
{
"mark": {"type": "line", "strokeOpacity": 0},
"encoding": {
"x": {"field": "t", "type": "quantitative", "scale": {"domain": [0, 6], "nice": false, "zero": false},
"axis": {"orient": "bottom", "labels": false, "grid": false, "domain": false, "ticks": false,
"title": "Čas", "titleFont": "Liberation Sans", "titleFontSize": 24, "titleFontWeight": "normal", "titleFontStyle": "italic", "titleColor": "#262626",
"titleAlign": "right", "titleX": 371, "titleY": 73, "titleBaseline": "alphabetic"}},
"y": {"field": "v", "type": "quantitative", "scale": {"domain": [-0.015, 0.01], "nice": false, "zero": false},
"axis": {"orient": "left", "labels": false, "grid": false, "domain": false, "ticks": false,
"title": "Napětí", "titleFont": "Liberation Sans", "titleFontSize": 24, "titleFontWeight": "normal", "titleFontStyle": "italic", "titleColor": "#262626",
"titleAngle": 270, "titleAlign": "right", "titleX": -92, "titleY": 336, "titleBaseline": "alphabetic"}}
}
},
{
"mark": {"type": "line", "strokeOpacity": 0},
"encoding": {
"x": {"field": "t", "type": "quantitative", "scale": {"domain": [0, 6], "nice": false, "zero": false},
"axis": {"orient": "bottom", "labels": false, "grid": false, "domain": false, "ticks": false,
"title": "⟶", "titleFont": "DejaVu Sans", "titleFontSize": 22, "titleFontWeight": "normal", "titleColor": "#262626",
"titleAlign": "left", "titleX": 449, "titleY": 73, "titleBaseline": "alphabetic"}},
"y": {"field": "v", "type": "quantitative", "scale": {"domain": [-0.015, 0.01], "nice": false, "zero": false},
"axis": {"orient": "left", "labels": false, "grid": false, "domain": false, "ticks": false,
"title": "↑", "titleFont": "DejaVu Sans", "titleFontSize": 22, "titleFontWeight": "normal", "titleColor": "#262626",
"titleAngle": 0, "titleAlign": "center", "titleX": -101, "titleY": 264, "titleBaseline": "alphabetic"}}
}
}
],
"resolve": {"axis": {"x": "independent", "y": "independent"}}
}
